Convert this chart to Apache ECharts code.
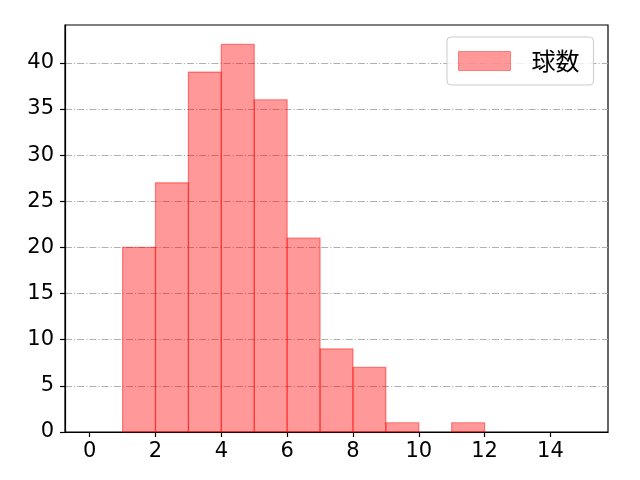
<!DOCTYPE html>
<html>
<head>
<meta charset="utf-8">
<script src="https://cdn.jsdelivr.net/npm/echarts@6/dist/echarts.min.js"></script>
<style>html,body{margin:0;padding:0;background:#fff}#c{width:640px;height:480px}</style>
</head>
<body>
<div id="c"></div>
<script>
const seriesName = '球数';
const binStarts = [1, 2, 3, 4, 5, 6, 7, 8, 9, 10, 11];
const binWidth = 1;
const counts = [20, 27, 39, 42, 36, 21, 9, 7, 1, 0, 1];
const xTicks = [0, 2, 4, 6, 8, 10, 12, 14];
const yTicks = [0, 5, 10, 15, 20, 25, 30, 35, 40];

const FONT = 'Noto Sans CJK JP';
const NUMFONT = 'DejaVu Sans';
const data = binStarts.map((s, i) => [s, s + binWidth, counts[i]]);

const chart = echarts.init(document.getElementById('c'), null, {renderer: 'canvas'});
chart.setOption({
  animation: false,
  backgroundColor: '#fff',
  textStyle: {fontFamily: FONT},
  grid: {left: 65, right: 32, top: 25, bottom: 48, show: true, borderColor: '#000', borderWidth: 1.2, backgroundColor: 'transparent'},
  xAxis: {
    type: 'value', min: -0.75, max: 15.75,
    axisLine: {show: true, onZero: false, lineStyle: {color: '#000', width: 1.2}},
    splitLine: {show: false},
    axisTick: {show: true, inside: false, length: 5, customValues: xTicks, lineStyle: {color: '#000', width: 1.2}},
    axisLabel: {customValues: xTicks, margin: 9, color: '#000', fontSize: 21, fontFamily: NUMFONT}
  },
  yAxis: {
    type: 'value', min: 0, max: 44.1, interval: 5,
    axisLine: {show: true, onZero: false, lineStyle: {color: '#000', width: 1.2}},
    splitLine: {show: true, showMinLine: false, showMaxLine: true, lineStyle: {color: '#b0b0b0', width: 1, type: [7, 2, 1.2, 2]}},
    axisTick: {show: true, inside: false, length: 5, customValues: yTicks, lineStyle: {color: '#000', width: 1.2}},
    axisLabel: {customValues: yTicks, margin: 11, color: '#000', fontSize: 21, fontFamily: NUMFONT}
  },
  legend: {
    show: true,
    left: 447, top: 37,
    orient: 'vertical',
    backgroundColor: 'rgba(255,255,255,0.8)',
    borderColor: '#cccccc', borderWidth: 1, borderRadius: 4,
    padding: [12, 14, 12, 11],
    itemWidth: 52, itemHeight: 19,
    textStyle: {fontSize: 24, color: '#000', fontFamily: FONT, padding: [0, 0, 0, 16]},
    data: [{name: seriesName, icon: 'rect', itemStyle: {color: 'rgba(255,0,0,0.4)', borderColor: 'rgba(255,0,0,0.4)', borderWidth: 1}}]
  },
  series: [{
    name: seriesName,
    type: 'custom',
    itemStyle: {color: 'rgba(255,0,0,0.4)'},
    encode: {x: [0, 1], y: 2},
    data: data,
    renderItem: function (params, api) {
      const h = api.value(2);
      if (!h) return null;
      const p0 = api.coord([api.value(0), h]);
      const p1 = api.coord([api.value(1), 0]);
      return {
        type: 'rect',
        shape: {x: p0[0], y: p0[1], width: p1[0] - p0[0], height: p1[1] - p0[1]},
        style: {fill: 'rgba(255,0,0,0.4)', stroke: 'rgba(255,0,0,0.45)', lineWidth: 1.2}
      };
    }
  }]
});
</script>
</body>
</html>
